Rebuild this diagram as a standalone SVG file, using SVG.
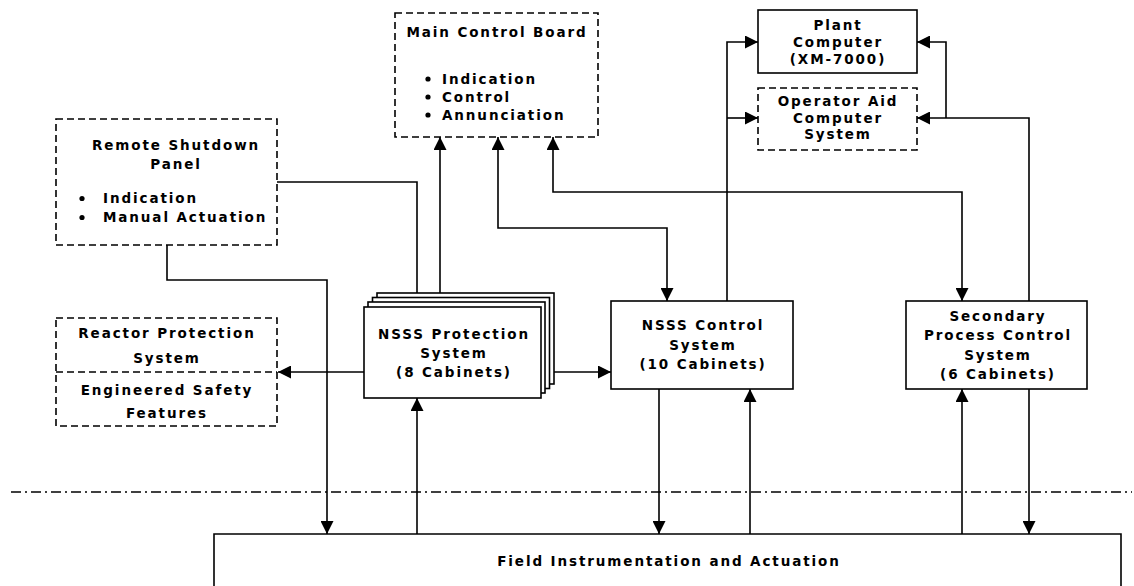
<svg xmlns="http://www.w3.org/2000/svg" width="1134" height="586" viewBox="0 0 1134 586">
<defs>
<style>
.t{font-family:"DejaVu Sans","Liberation Sans",Arial,sans-serif;font-weight:bold;font-size:13.5px;letter-spacing:1.9px;fill:#000}
.c{text-anchor:middle}
.solid{fill:#fff;stroke:#000;stroke-width:1.6}
.dash{fill:#fff;stroke:#000;stroke-width:1.6;stroke-dasharray:7 4}
.ln{fill:none;stroke:#000;stroke-width:1.6}
.arr{marker-end:url(#ah)}
.both{marker-start:url(#ah);marker-end:url(#ah)}
</style>
<marker id="ah" viewBox="0 0 13 13" refX="13" refY="6.5" markerWidth="13" markerHeight="13" markerUnits="userSpaceOnUse" orient="auto-start-reverse">
<path d="M0,0 L13,6.5 L0,13 z" fill="#000"/>
</marker>
</defs>
<rect width="1134" height="586" fill="#fff"/>

<g id="boundary">
<path d="M11,492 H1132" fill="none" stroke="#000" stroke-width="1.3" stroke-dasharray="10 4 2 4"/>
</g>

<g id="connectors">
<path class="ln" d="M277,182 H417 V293"/>
<path class="ln arr" d="M167,245 V280 H327 V534"/>
<path class="ln arr" d="M440,293 V137"/>
<path class="ln both" d="M498,137 V228 H667 V301"/>
<path class="ln both" d="M553,137 V192 H962 V301"/>
<path class="ln arr" d="M364,372 H278"/>
<path class="ln arr" d="M541,372 H611"/>
<path class="ln arr" d="M417,534 V398"/>
<path class="ln arr" d="M659,389 V534"/>
<path class="ln arr" d="M750,534 V389"/>
<path class="ln arr" d="M727,301 V42 H758"/>
<path class="ln arr" d="M727,118 H758"/>
<path class="ln arr" d="M962,534 V389"/>
<path class="ln arr" d="M1029,389 V534"/>
<path class="ln arr" d="M1029,301 V118 H917"/>
<path class="ln arr" d="M946,118 V42 H917"/>
</g>

<g id="main-control-board">
<rect class="dash" x="395" y="13" width="203" height="124"/>
<text class="t c" x="497" y="37">Main Control Board</text>
<circle cx="428" cy="79" r="2.6"/>
<circle cx="428" cy="97" r="2.6"/>
<circle cx="428" cy="115" r="2.6"/>
<text class="t" x="442" y="84">Indication</text>
<text class="t" x="442" y="102">Control</text>
<text class="t" x="442" y="120">Annunciation</text>
</g>

<g id="plant-computer">
<rect class="solid" x="758" y="10" width="159" height="63"/>
<text class="t c" x="838" y="30">Plant</text>
<text class="t c" x="838" y="47">Computer</text>
<text class="t c" x="838" y="64">(XM-7000)</text>
</g>

<g id="operator-aid">
<rect class="dash" x="758" y="88" width="159" height="62"/>
<text class="t c" x="838" y="106">Operator Aid</text>
<text class="t c" x="838" y="122.5">Computer</text>
<text class="t c" x="838" y="139">System</text>
</g>

<g id="remote-shutdown-panel">
<rect class="dash" x="56" y="119" width="221" height="126"/>
<text class="t c" x="176" y="150">Remote Shutdown</text>
<text class="t c" x="176" y="169">Panel</text>
<circle cx="82" cy="198.5" r="2.6"/>
<circle cx="82" cy="217.5" r="2.6"/>
<text class="t" x="103" y="203">Indication</text>
<text class="t" x="103" y="222">Manual Actuation</text>
</g>

<g id="rps-esf">
<rect class="dash" x="56" y="318" width="221" height="108"/>
<path d="M56,372 H277" fill="none" stroke="#000" stroke-width="1.6" stroke-dasharray="7 4"/>
<text class="t c" x="167" y="338">Reactor Protection</text>
<text class="t c" x="167" y="363">System</text>
<text class="t c" x="167" y="395">Engineered Safety</text>
<text class="t c" x="167" y="418">Features</text>
</g>

<g id="nsss-protection">
<rect class="solid" x="377" y="293" width="177" height="91"/>
<rect class="solid" x="372.5" y="297.5" width="177" height="91"/>
<rect class="solid" x="368" y="302" width="177" height="91"/>
<rect class="solid" x="364" y="307" width="177" height="91"/>
<text class="t c" x="454" y="339">NSSS Protection</text>
<text class="t c" x="454" y="358">System</text>
<text class="t c" x="454" y="377">(8 Cabinets)</text>
</g>

<g id="nsss-control">
<rect class="solid" x="611" y="301" width="182" height="88"/>
<text class="t c" x="703" y="330">NSSS Control</text>
<text class="t c" x="703" y="349.5">System</text>
<text class="t c" x="703" y="369">(10 Cabinets)</text>
</g>

<g id="secondary-process">
<rect class="solid" x="906" y="301" width="181" height="88"/>
<text class="t c" x="998" y="321">Secondary</text>
<text class="t c" x="998" y="340">Process Control</text>
<text class="t c" x="998" y="359.5">System</text>
<text class="t c" x="998" y="379">(6 Cabinets)</text>
</g>

<g id="field">
<path d="M214,590 V534 H1121 V590" fill="#fff" stroke="#000" stroke-width="1.6"/>
<text class="t c" x="669" y="566">Field Instrumentation and Actuation</text>
</g>
</svg>
